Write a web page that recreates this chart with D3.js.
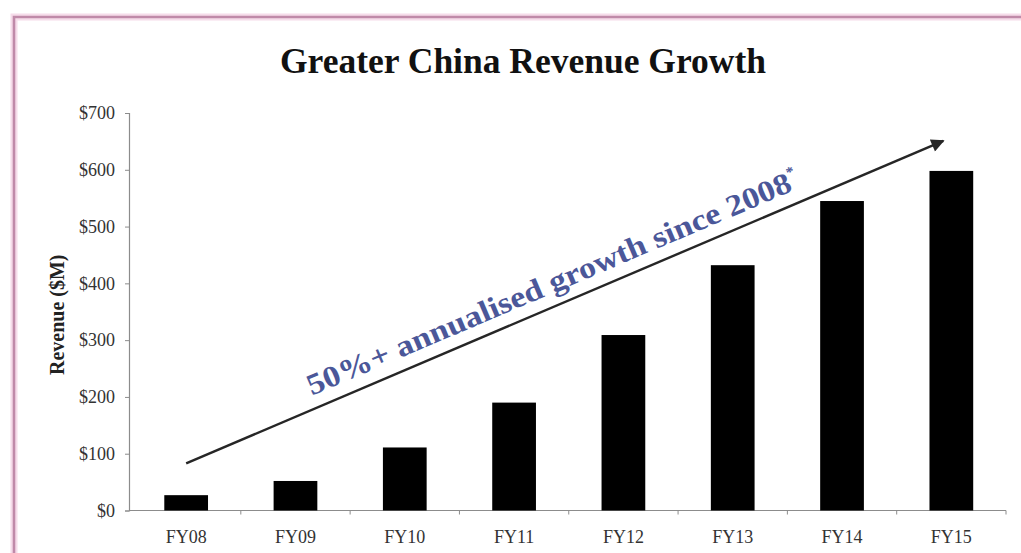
<!DOCTYPE html>
<html>
<head>
<meta charset="utf-8">
<script src="https://cdn.jsdelivr.net/npm/d3@7"></script>
<style>
  html, body { margin: 0; padding: 0; background: #ffffff; }
  svg { display: block; }
</style>
</head>
<body>
<svg id="chart" width="1021" height="553"></svg>
<script>
// Greater China revenue by fiscal year ($M)
const years = ["FY08", "FY09", "FY10", "FY11", "FY12", "FY13", "FY14", "FY15"];
const revenue = [27, 52, 111, 190, 309, 432, 545, 598];
const yTicks = [0, 100, 200, 300, 400, 500, 600, 700];

// Trend arrow endpoints in data space: [category, revenue]
const arrowFrom = ["FY08", 83];
const arrowTo = ["FY15", 651];
const arrowLabel = "50%+ annualised growth since 2008";
const arrowNote = "*";

const titleText = "Greater China Revenue Growth";
const yTitle = "Revenue ($M)";

const svg = d3.select("#chart");
const W = 1021, H = 553;
const serif = "'Liberation Serif', 'Times New Roman', serif";

// Frame: mauve rule along the top and left edges
const frame = svg.append("g");
frame.append("rect").attr("x", 0).attr("y", 0).attr("width", W).attr("height", H).attr("fill", "#ffffff");
frame.append("path")
  .attr("d", `M14,${H} L14,17 L${W},17`)
  .attr("fill", "none").attr("stroke", "#f6dcea").attr("stroke-width", 7);
frame.append("path")
  .attr("d", `M14,${H} L14,17 L${W},17`)
  .attr("fill", "none").attr("stroke", "#c08aa9").attr("stroke-width", 2.6);

// Scales
const x = d3.scaleBand().domain(years).range([131.5, 1006]).paddingInner(0.6).paddingOuter(0.3);
const y = d3.scaleLinear().domain([0, 700]).range([510.5, 113]);
const axisX = 129;

// Title
svg.append("text")
  .attr("x", 523).attr("y", 73)
  .attr("text-anchor", "middle")
  .attr("font-family", serif).attr("font-weight", "bold").attr("font-size", 35.5)
  .attr("fill", "#111")
  .text(titleText);

// Y axis
const gy = svg.append("g").attr("transform", `translate(${axisX},0)`)
  .call(d3.axisLeft(y).tickValues(yTicks).tickSize(4).tickPadding(10).tickFormat(d => "$" + d));
gy.select(".domain").attr("stroke", "#8c8c8c").attr("stroke-width", 1.2);
gy.selectAll(".tick line").attr("stroke", "#8c8c8c");
gy.selectAll(".tick text")
  .attr("font-family", serif).attr("font-size", 18).attr("fill", "#333");

// Y axis title
svg.append("text")
  .attr("transform", `translate(64,${(y(0) + y(700)) / 2 + 3}) rotate(-90)`)
  .attr("text-anchor", "middle")
  .attr("font-family", serif).attr("font-weight", "bold").attr("font-size", 20)
  .attr("fill", "#222")
  .text(yTitle);

// X axis: baseline, category separators and labels
const gx = svg.append("g").attr("transform", `translate(0,${y(0)})`);
gx.append("line")
  .attr("x1", axisX).attr("x2", x.range()[1])
  .attr("stroke", "#8c8c8c").attr("stroke-width", 1.2);
gx.selectAll("line.sep")
  .data(years.map((d, i) => i + 1))
  .join("line").attr("class", "sep")
  .attr("x1", i => x.range()[0] + i * x.step())
  .attr("x2", i => x.range()[0] + i * x.step())
  .attr("y1", 0).attr("y2", 4)
  .attr("stroke", "#8c8c8c");
gx.selectAll("text")
  .data(years)
  .join("text")
  .attr("x", d => x(d) + x.bandwidth() / 2)
  .attr("y", 32)
  .attr("text-anchor", "middle")
  .attr("font-family", serif).attr("font-size", 18).attr("fill", "#333")
  .text(d => d);

// Bars
svg.append("g").selectAll("rect")
  .data(years.map((d, i) => ({ year: d, value: revenue[i] })))
  .join("rect")
  .attr("x", d => x(d.year))
  .attr("width", x.bandwidth())
  .attr("y", d => y(d.value))
  .attr("height", d => y(0) - y(d.value))
  .attr("fill", "#000");

// Growth arrow
const x0 = x(arrowFrom[0]) + x.bandwidth() / 2, y0 = y(arrowFrom[1]);
const x1 = x(arrowTo[0]) + x.bandwidth() / 2 - 8, y1 = y(arrowTo[1]);
const len = Math.hypot(x1 - x0, y1 - y0);
const ux = (x1 - x0) / len, uy = (y1 - y0) / len;
const angle = Math.atan2(y1 - y0, x1 - x0) * 180 / Math.PI;

svg.append("defs").append("marker")
  .attr("id", "head")
  .attr("viewBox", "0 0 10 10")
  .attr("refX", 9).attr("refY", 5)
  .attr("markerWidth", 6.5).attr("markerHeight", 5.5)
  .attr("markerUnits", "strokeWidth")
  .attr("orient", "auto")
  .append("path").attr("d", "M0,0 L10,5 L0,10 z").attr("fill", "#262626");

svg.append("line")
  .attr("x1", x0).attr("y1", y0).attr("x2", x1).attr("y2", y1)
  .attr("stroke", "#262626").attr("stroke-width", 2.4)
  .attr("marker-end", "url(#head)");

// Label running along the arrow
const along = 142, offset = 13;
const tx = x0 + ux * along + uy * offset;
const ty = y0 + uy * along - ux * offset;
const lbl = svg.append("text")
  .attr("transform", `translate(${tx},${ty}) rotate(${angle})`)
  .attr("font-family", serif).attr("font-weight", "bold").attr("font-size", 30)
  .attr("fill", "#4b5799")
  .attr("textLength", 532).attr("lengthAdjust", "spacingAndGlyphs");
lbl.append("tspan").text(arrowLabel);
lbl.append("tspan").attr("font-size", 14).attr("dy", -14).text(arrowNote);
</script>
</body>
</html>
